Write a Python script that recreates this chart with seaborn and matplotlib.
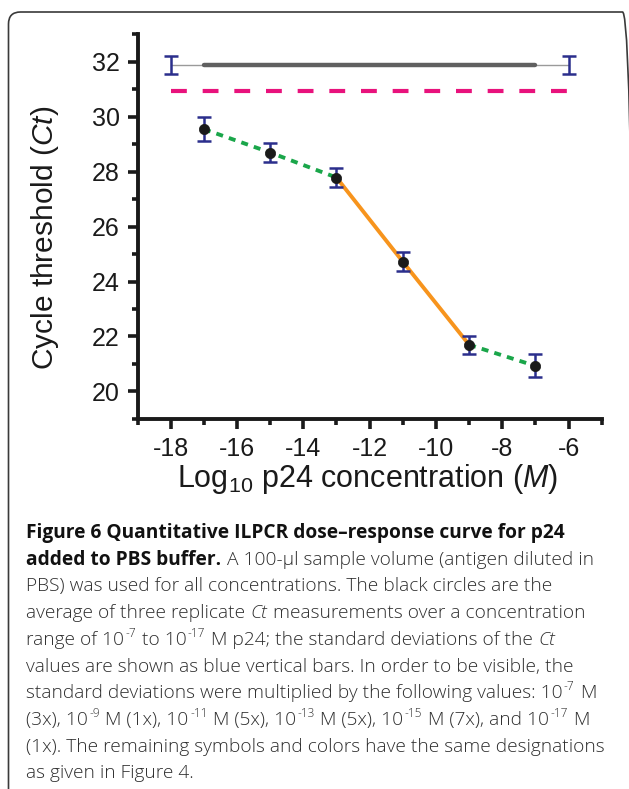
import numpy as np
import pandas as pd
import matplotlib
matplotlib.use("Agg")
import matplotlib.pyplot as plt
import seaborn as sns
from matplotlib.ticker import MultipleLocator, FixedLocator
from matplotlib.patches import FancyBboxPatch
from matplotlib.transforms import IdentityTransform

# ---------------- data ----------------
conc = [-17, -15, -13, -11, -9, -7]
ct_mean = [29.54, 28.69, 27.78, 24.72, 21.70, 20.93]
ct_sd = [0.44, 0.36, 0.36, 0.35, 0.33, 0.42]
ctrl_conc = [-18, -6]
ctrl_ct = [31.88, 31.88]
ctrl_sd = [0.33, 0.33]
ctrl_core_conc = [-17, -7]
cutoff_ct = [30.92, 30.92]
xticks = [-18, -16, -14, -12, -10, -8, -6]
yticks = [20, 22, 24, 26, 28, 30, 32]

caption_lines = [
    [("Figure 6 Quantitative ILPCR dose\u2013response curve for p24", "b")],
    [("added to PBS buffer.", "b"), (" A 100-\u00b5l sample volume (antigen diluted in", "r")],
    [("PBS) was used for all concentrations. The black circles are the", "r")],
    [("average of three replicate", "r"), (" Ct", "i"), (" measurements over a concentration", "r")],
    [("range of 10", "r"), ("-7", "s"), (" to 10", "r"), ("-17", "s"),
     (" M p24; the standard deviations of the", "r"), (" Ct", "i")],
    [("values are shown as blue vertical bars. In order to be visible, the", "r")],
    [("standard deviations were multiplied by the following values: 10", "r"), ("-7", "s"), (" M", "r")],
    [("(3x), 10", "r"), ("-9", "s"), (" M (1x), 10", "r"), ("-11", "s"), (" M (5x), 10", "r"),
     ("-13", "s"), (" M (5x), 10", "r"), ("-15", "s"), (" M (7x), and 10", "r"), ("-17", "s"), (" M", "r")],
    [("(1x). The remaining symbols and colors have the same designations", "r")],
    [("as given in Figure 4.", "r")],
]

# ---------------- style ----------------
W, H, DPI = 629, 789, 100
sns.set_theme(style="ticks")
plt.rcParams["font.family"] = ["Liberation Sans", "DejaVu Sans"]
plt.rcParams["axes.unicode_minus"] = False
plt.rcParams["mathtext.fontset"] = "custom"
plt.rcParams["mathtext.rm"] = "Liberation Sans"
plt.rcParams["mathtext.it"] = "Liberation Sans:italic"

GREEN = "#1aa64a"
ORANGE = "#f7941d"
PINK = "#e8127c"
NAVY = "#2b2e8c"
INK = "#1a1a1a"

fig = plt.figure(figsize=(W / DPI, H / DPI), dpi=DPI)
fig.patch.set_facecolor("white")
ax = fig.add_axes([137.6 / W, 1 - 419 / H, (601.7 - 137.6) / W, (419 - 34) / H])
ax.set_facecolor("none")

df = pd.DataFrame({"conc": conc, "ct": ct_mean})

# control line (thin full span + thick core)
sns.lineplot(x=ctrl_conc, y=ctrl_ct, color="#9a9a9a", lw=1.0, ax=ax, zorder=2)
sns.lineplot(x=ctrl_core_conc, y=ctrl_ct, color="#606060", lw=3.2, ax=ax, zorder=2)
# cutoff dashed
sns.lineplot(x=ctrl_conc, y=cutoff_ct, color=PINK, lw=3.0, ax=ax, zorder=2,
             linestyle=(0, (3.8, 3.8)))
# dose-response segments
sns.lineplot(data=df.iloc[0:3], x="conc", y="ct", color=GREEN, lw=2.8, ax=ax,
             sort=False, estimator=None, linestyle=(0, (1.8, 1.6)), zorder=2)
sns.lineplot(data=df.iloc[4:6], x="conc", y="ct", color=GREEN, lw=2.8, ax=ax,
             sort=False, estimator=None, linestyle=(0, (1.8, 1.6)), zorder=2)
sns.lineplot(data=df.iloc[2:5], x="conc", y="ct", color=ORANGE, lw=2.8, ax=ax,
             sort=False, estimator=None, zorder=2)

# error bars
ax.errorbar(conc, ct_mean, yerr=ct_sd, fmt="none", ecolor=NAVY, elinewidth=1.8,
            capsize=5.3, capthick=1.8, zorder=3)
ax.errorbar(ctrl_conc, ctrl_ct, yerr=ctrl_sd, fmt="none", ecolor=NAVY, elinewidth=1.8,
            capsize=5.3, capthick=1.8, zorder=3)
# mean markers
sns.scatterplot(data=df, x="conc", y="ct", color=INK, s=55, edgecolor=INK,
                linewidth=0.5, ax=ax, zorder=5)

ax.set_xlim(-19, -5)
ax.set_ylim(19, 33)
ax.xaxis.set_major_locator(FixedLocator(xticks))
ax.yaxis.set_major_locator(FixedLocator(yticks))
ax.xaxis.set_minor_locator(MultipleLocator(1))
ax.yaxis.set_minor_locator(MultipleLocator(1))
sns.despine(ax=ax)
for s in ("left", "bottom"):
    ax.spines[s].set_linewidth(2.8)
    ax.spines[s].set_color(INK)
ax.tick_params(which="major", direction="out", length=7, width=2.6, color=INK,
               labelsize=18, labelcolor=INK, pad=6)
ax.tick_params(which="minor", direction="out", length=4, width=2.6, color=INK)
ax.grid(False)

ax.set_xlabel(r"Log$_{10}$ p24 concentration ($\mathit{M}$)", fontsize=22, color=INK)
ax.set_ylabel(r"Cycle threshold ($\mathit{Ct}$)", fontsize=21.5, color=INK)
ax.xaxis.set_label_coords(0.495, -0.112)
ax.yaxis.set_label_coords(-0.165, 0.471)

# ---------------- frame ----------------
frame = FancyBboxPatch((8.5, -40), 626, 777 + 40, boxstyle="round,pad=0,rounding_size=12",
                       transform=IdentityTransform(), fill=False, ec="#3a3a3a", lw=1.2,
                       clip_on=False)
fig.add_artist(frame)

# ---------------- caption ----------------
fig.canvas.draw()
renderer = fig.canvas.get_renderer()
CAP_FONT = "Open Sans"

probe = fig.text(0, 0, caption_lines[8][0][0], fontsize=14, family=CAP_FONT, fontweight="light")
pw = probe.get_window_extent(renderer).width
probe.remove()
size = 14 * 580.0 / pw


def draw_runs(runs, y_px, x0_px, size):
    x = x0_px
    px_per_pt = DPI / 72.0
    for text, kind in runs:
        n = len(text) - len(text.lstrip(" "))
        t = text.lstrip(" ")
        fs, weight, style, color, dy = size, "light", "normal", "#2e2e2e", 0.0
        if kind == "b":
            weight, color = "bold", "#111111"
        elif kind == "i":
            style = "italic"
        elif kind == "s":
            fs = size * 0.62
            dy = size * 0.42 * px_per_pt
        x += n * 0.26 * size * px_per_pt
        if n == 0 and x > x0_px:
            x += 0.04 * size * px_per_pt
        tx = fig.text(x / W, (H - y_px + dy) / H, t, fontsize=fs, family=CAP_FONT,
                      fontweight=weight, fontstyle=style, color=color,
                      ha="left", va="baseline")
        bb = tx.get_window_extent(renderer)
        x = bb.x1 + 0.03 * size * px_per_pt


for i, runs in enumerate(caption_lines):
    draw_runs(runs, 538 + i * 26.7, 26, size)

fig.savefig("out.png", dpi=DPI)
